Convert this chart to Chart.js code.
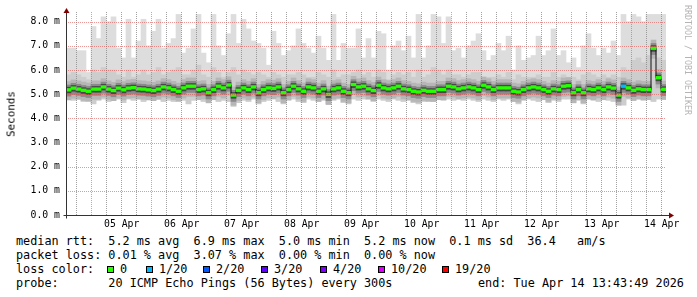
<!DOCTYPE html>
<html>
<head>
<meta charset="utf-8">
<script src="https://cdn.jsdelivr.net/npm/chart.js@4/dist/chart.umd.min.js"></script>
<style>
  body { margin: 0; width: 697px; height: 297px; overflow: hidden; position: relative; background: #fff;
         font-family: "DejaVu Sans Mono", monospace; color: #000; }
  #plot { position: absolute; left: 0; top: 0; }
  .txt { position: absolute; white-space: pre; font-size: 11.8px; line-height: 14px; }
  .box { position: absolute; top: 266px; width: 5px; height: 5px; border: 1px solid #000; }
  #ytitle { position: absolute; left: 11px; top: 114px; font-size: 10.9px; white-space: pre;
            transform: translate(-50%, -50%) rotate(-90deg); }
  #mark { position: absolute; left: 683px; top: 5px; font-size: 8.3px; color: #b4b4b4;
          writing-mode: vertical-rl; white-space: pre; }
</style>
</head>
<body>
<canvas id="plot" width="697" height="232"></canvas>
<div id="ytitle">Seconds</div>
<div id="mark">RRDTOOL / TOBI OETIKER</div>
<div class="txt" style="left:16px;top:234px">median rtt:  5.2 ms avg  6.9 ms max  5.0 ms min  5.2 ms now  0.1 ms sd  36.4   am/s
packet loss: 0.01 % avg  3.07 % max  0.00 % min  0.00 % now
loss color:
probe:       20 ICMP Echo Pings (56 Bytes) every 300s</div>
<div class="txt" style="left:478px;top:276px">end: Tue Apr 14 13:43:49 2026</div>
<div id="legend"></div>
<script>
// 10 days ending Tue Apr 14 13:43:49, one value per 2 hours (ms)
const STEP = 2;
const FIRST_MIDNIGHT = 10 + 16 / 60 + 11 / 3600; // Apr 5 00:00, hours after start
const dayLabels = ['05 Apr', '06 Apr', '07 Apr', '08 Apr', '09 Apr', '10 Apr', '11 Apr', '12 Apr', '13 Apr', '14 Apr'];

const median = [
  5.18, 5.25, 5.21, 5.16, 5.12, 5.21, 5.21, 5.30, 5.21, 5.15, 5.25, 5.18, 5.25, 5.27, 5.22, 5.21, 5.18, 5.15, 5.21, 5.30,
  5.26, 5.19, 5.12, 5.26, 5.33, 5.33, 5.19, 5.22, 5.06, 5.19, 5.33, 5.26, 5.38, 4.96, 5.16, 5.26, 5.19, 5.30, 5.06, 5.19,
  5.26, 5.24, 5.30, 5.06, 5.19, 5.33, 5.22, 5.12, 5.30, 5.26, 5.12, 5.22, 4.99, 5.22, 5.26, 5.12, 5.06, 5.40, 5.30, 5.33,
  5.22, 5.15, 5.37, 5.26, 5.22, 5.26, 5.33, 5.22, 5.19, 5.12, 5.09, 5.16, 5.12, 5.12, 5.19, 5.19, 5.33, 5.30, 5.22, 5.26,
  5.30, 5.26, 5.19, 5.37, 5.30, 5.19, 5.26, 5.26, 5.26, 5.12, 5.09, 5.19, 5.26, 5.30, 5.26, 5.19, 5.12, 5.22, 5.19, 5.33,
  5.35, 5.06, 5.19, 5.06, 5.22, 5.19, 5.26, 5.19, 5.30, 5.25, 4.96, 5.33, 5.26, 5.16, 5.22, 5.19, 5.19, 6.90, 5.68, 5.20
];
const pingMax = [
  6.9, 6.9, 6.8, 6.8, 5.9, 7.8, 7.3, 8.2, 8.0, 8.2, 6.9, 6.5, 8.1, 6.5, 7.2, 8.1, 7.0, 7.6, 8.1, 6.9,
  7.1, 7.3, 8.3, 6.7, 6.9, 7.7, 8.3, 6.7, 6.3, 8.3, 7.0, 6.6, 7.5, 8.3, 7.1, 8.1, 7.7, 7.2, 7.1, 6.9,
  6.2, 7.6, 7.1, 6.6, 6.8, 7.0, 7.7, 7.1, 6.9, 6.7, 7.4, 6.9, 6.4, 8.3, 6.4, 7.1, 6.9, 6.9, 7.7, 6.5,
  7.3, 6.5, 7.6, 7.5, 6.0, 7.0, 7.2, 6.8, 7.4, 6.5, 8.3, 6.5, 7.0, 8.3, 8.2, 7.1, 8.2, 6.8, 6.9, 6.5,
  7.0, 7.2, 7.5, 6.8, 6.4, 6.6, 7.1, 6.8, 7.4, 6.0, 7.0, 6.4, 6.5, 6.6, 7.4, 6.6, 6.8, 7.7, 6.6, 6.8,
  6.3, 6.5, 6.1, 7.0, 7.5, 6.9, 6.6, 6.9, 6.7, 7.2, 6.6, 8.3, 8.0, 8.3, 8.2, 8.0, 8.3, 8.3, 8.3, 8.3
];
const smokeHi = [
  5.8, 5.9, 5.8, 5.7, 5.6, 6.0, 5.9, 6.1, 6.0, 6.0, 5.8, 5.7, 6.0, 5.7, 5.8, 6.0, 5.8, 5.9, 6.1, 5.8,
  5.9, 6.0, 6.1, 5.8, 5.8, 6.0, 6.2, 5.8, 5.7, 6.1, 5.9, 5.7, 5.9, 6.1, 5.8, 6.0, 5.9, 5.8, 5.9, 5.8,
  5.7, 5.9, 5.8, 5.7, 5.8, 5.8, 5.9, 5.8, 5.7, 5.7, 5.9, 5.8, 5.7, 6.0, 5.7, 5.8, 5.8, 5.9, 6.0, 5.8,
  5.9, 5.7, 6.0, 5.9, 5.6, 5.8, 5.9, 5.8, 5.9, 5.7, 6.0, 5.7, 5.8, 6.1, 6.0, 5.8, 6.0, 5.8, 5.8, 5.7,
  5.8, 5.9, 5.9, 5.7, 5.7, 5.7, 5.8, 5.7, 5.9, 5.6, 5.8, 5.7, 5.7, 5.7, 5.8, 5.7, 5.7, 5.9, 5.7, 5.8,
  5.7, 5.7, 5.6, 5.8, 5.9, 5.8, 5.7, 5.8, 5.7, 5.8, 5.7, 6.1, 6.0, 6.4, 6.5, 6.3, 6.6, 6.6, 6.5, 6.4
];
const pingMin = [
  4.80, 4.75, 4.80, 4.70, 4.75, 4.60, 4.75, 4.80, 4.70, 4.75, 4.80, 4.65, 4.80, 4.75, 4.80, 4.70, 4.80, 4.75, 4.80, 4.70,
  4.75, 4.70, 4.80, 4.75, 4.60, 4.75, 4.80, 4.70, 4.75, 4.80, 4.70, 4.75, 4.70, 4.50, 4.65, 4.75, 4.70, 4.80, 4.60, 4.70,
  4.75, 4.80, 4.70, 4.60, 4.75, 4.80, 4.70, 4.65, 4.80, 4.75, 4.70, 4.75, 4.60, 4.75, 4.80, 4.65, 4.60, 4.80, 4.75, 4.80,
  4.80, 4.70, 4.80, 4.75, 4.70, 4.80, 4.75, 4.70, 4.75, 4.65, 4.60, 4.70, 4.75, 4.70, 4.80, 4.75, 4.80, 4.75, 4.80, 4.75,
  4.80, 4.75, 4.70, 4.80, 4.75, 4.70, 4.80, 4.75, 4.80, 4.70, 4.60, 4.75, 4.80, 4.75, 4.70, 4.80, 4.65, 4.75, 4.70, 4.80,
  4.80, 4.65, 4.75, 4.60, 4.80, 4.75, 4.70, 4.80, 4.75, 4.70, 4.60, 4.55, 4.80, 4.75, 4.80, 4.75, 4.80, 4.70, 4.80, 4.80
];
// lost pings out of 20 per step
const loss = [
  0, 0, 0, 0, 0, 0, 0, 0, 0, 0, 0, 0, 0, 0, 0, 0, 0, 0, 0, 0,
  0, 0, 0, 0, 0, 0, 0, 0, 0, 0, 0, 0, 0, 0, 0, 0, 0, 0, 0, 0,
  0, 0, 0, 0, 0, 0, 0, 0, 0, 0, 0, 0, 0, 0, 0, 0, 0, 0, 0, 0,
  0, 0, 0, 0, 0, 0, 0, 0, 0, 0, 0, 0, 0, 0, 0, 0, 0, 0, 0, 0,
  0, 0, 0, 0, 0, 0, 0, 0, 0, 0, 0, 0, 0, 0, 0, 0, 0, 0, 0, 0,
  0, 0, 0, 0, 0, 0, 0, 0, 0, 0, 0, 1, 0, 0, 0, 0, 0, 0, 0, 0
];
const lossSteps = [0, 1, 2, 3, 4, 10, 19];
const lossLabels = ['0', '1/20', '2/20', '3/20', '4/20', '10/20', '19/20'];
const lossColors = ['#26ff00', '#00b8ff', '#0059ff', '#5e00ff', '#7e00ff', '#dd00ff', '#ff0000'];

// legend swatches
const boxX = [107, 146, 203, 261, 320, 378, 442];
const legend = document.getElementById('legend');
lossLabels.forEach((lab, i) => {
  const b = document.createElement('div');
  b.className = 'box';
  b.style.left = boxX[i] + 'px';
  b.style.background = lossColors[i];
  legend.appendChild(b);
  const t = document.createElement('div');
  t.className = 'txt';
  t.style.left = (boxX[i] + 13) + 'px';
  t.style.top = '262px';
  t.textContent = lab;
  legend.appendChild(t);
});

function lossColor(n) {
  let c = lossColors[0];
  lossSteps.forEach((s, i) => { if (n >= s) c = lossColors[i]; });
  return c;
}

const times = median.map((v, i) => i * STEP + STEP / 2);
const band = (lo, hi) => lo.map((v, i) => ({ x: times[i], y: [v, hi[i]] }));
// smoke around the median, drawn as a fixed thickness in ms
const around = (below, above) => median.map((v, i) => ({ x: times[i], y: [v - below, v + above] }));
const isMidnight = h => Math.abs((((h - FIRST_MIDNIGHT) % 24) + 24) % 24) < 0.01;

const barOpts = { type: 'bar', grouped: false, barPercentage: 1, categoryPercentage: 1, borderWidth: 0 };

const MAJOR = 'rgba(224,80,80,0.6)';
const MINOR = 'rgba(130,130,130,0.75)';

const rrdGrid = {
  id: 'rrdGrid',
  afterDatasetsDraw(chart) {
    const { ctx, chartArea: a, scales: { x, y } } = chart;
    ctx.save();
    ctx.lineWidth = 1;
    ctx.setLineDash([1, 1]);
    x.ticks.forEach(t => {
      const px = Math.floor(x.getPixelForValue(t.value)) + 0.5;
      ctx.strokeStyle = isMidnight(t.value) ? MAJOR : MINOR;
      ctx.beginPath(); ctx.moveTo(px, a.top); ctx.lineTo(px, a.bottom); ctx.stroke();
    });
    y.ticks.forEach(t => {
      if (t.value === 0) return;
      const py = Math.round(y.getPixelForValue(t.value)) + 0.5;
      ctx.strokeStyle = Number.isInteger(t.value) ? MAJOR : MINOR;
      ctx.beginPath(); ctx.moveTo(a.left, py); ctx.lineTo(a.right, py); ctx.stroke();
    });
    ctx.restore();
  }
};

const rrdAxes = {
  id: 'rrdAxes',
  afterDraw(chart) {
    const { ctx, chartArea: a } = chart;
    const x0 = Math.round(a.left) + 0.5, y0 = Math.round(a.bottom) + 0.5;
    ctx.save();
    ctx.strokeStyle = '#333';
    ctx.lineWidth = 1;
    ctx.beginPath();
    ctx.moveTo(x0, y0 + 3); ctx.lineTo(x0, a.top);
    ctx.moveTo(x0 - 3, y0); ctx.lineTo(a.right + 3, y0);
    ctx.stroke();
    ctx.fillStyle = '#800000';
    ctx.beginPath();
    ctx.moveTo(x0, a.top - 4); ctx.lineTo(x0 - 3, a.top + 1); ctx.lineTo(x0 + 3, a.top + 1);
    ctx.closePath(); ctx.fill();
    ctx.beginPath();
    ctx.moveTo(a.right + 8, y0); ctx.lineTo(a.right + 3, y0 - 3); ctx.lineTo(a.right + 3, y0 + 3);
    ctx.closePath(); ctx.fill();
    ctx.restore();
  }
};

const tickFont = { family: 'DejaVu Sans Mono', size: 9.8 };

new Chart(document.getElementById('plot'), {
  type: 'bar',
  data: {
    datasets: [
      { ...barOpts, data: band(pingMin, pingMax), backgroundColor: '#dddddd', order: 10 },
      { ...barOpts, data: band(pingMin, smokeHi), backgroundColor: '#cdcdcd', order: 9 },
      { ...barOpts, data: around(0.42, 0.34), backgroundColor: '#b6b6b6', order: 8 },
      { ...barOpts, data: around(0.26, 0.2), backgroundColor: '#8a8a8a', order: 7 },
      { ...barOpts, data: around(0.13, 0.11), backgroundColor: '#474747', order: 6 },
      { type: 'line', data: median.map((v, i) => ({ x: times[i], y: v })), stepped: 'middle',
        pointRadius: 0, fill: false, borderColor: '#111111', borderWidth: 1, order: 2 },
      { ...barOpts, data: around(0.055, 0.055),
        backgroundColor: ctx => lossColor(loss[ctx.dataIndex]), order: 1 }
    ]
  },
  options: {
    responsive: false,
    animation: false,
    devicePixelRatio: 1,
    layout: { padding: { left: 0, top: 12, right: 31, bottom: 0 } },
    plugins: { legend: { display: false }, tooltip: { enabled: false } },
    scales: {
      x: {
        type: 'linear', min: 0, max: 240, offset: false,
        afterBuildTicks: s => {
          const t = [];
          for (let h = FIRST_MIDNIGHT - 6; h <= 240; h += 6) t.push({ value: h });
          s.ticks = t;
        },
        afterFit: s => { s.height = 17; s.paddingLeft = 0; s.paddingRight = 0; },
        ticks: {
          autoSkip: false, maxRotation: 0, padding: 4, color: '#000', font: tickFont,
          callback: v => {
            const d = (v - FIRST_MIDNIGHT - 12) / 24;
            return Math.abs(d - Math.round(d)) < 0.01 ? (dayLabels[Math.round(d)] || '') : '';
          }
        },
        grid: { display: false, offset: false, drawTicks: false },
        border: { display: false }
      },
      y: {
        min: 0, max: 8.4,
        afterBuildTicks: s => {
          const t = [];
          for (let v = 0; v <= 8; v += 0.5) t.push({ value: v });
          s.ticks = t;
        },
        afterFit: s => { s.width = 66; s.paddingTop = 0; s.paddingBottom = 0; },
        ticks: {
          padding: 6, color: '#000', font: tickFont,
          callback: v => Number.isInteger(v) ? v.toFixed(1) + ' m' : ''
        },
        grid: { display: false, drawTicks: false },
        border: { display: false }
      }
    }
  },
  plugins: [rrdGrid, rrdAxes]
});
</script>
</body>
</html>
